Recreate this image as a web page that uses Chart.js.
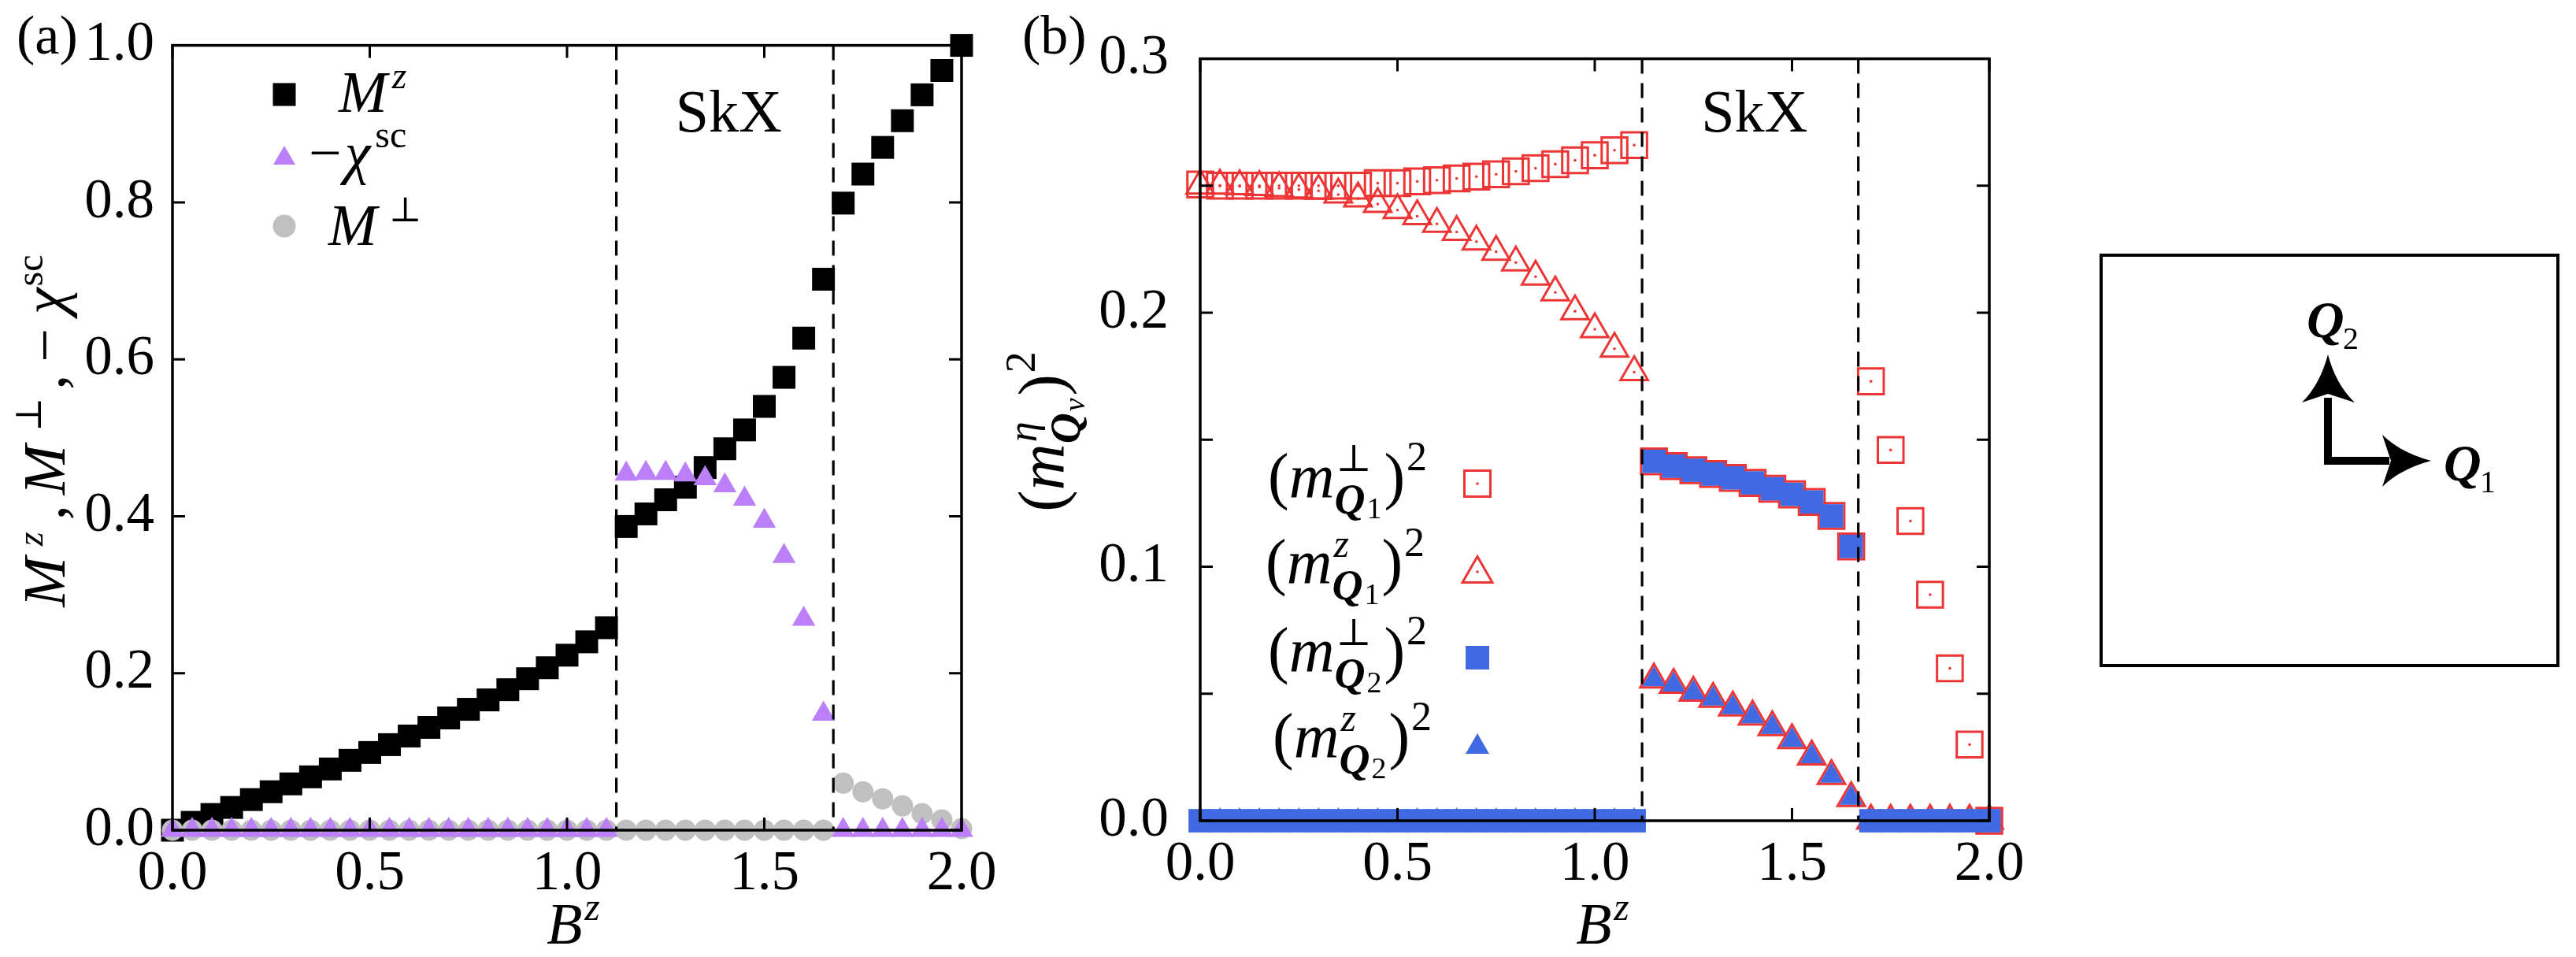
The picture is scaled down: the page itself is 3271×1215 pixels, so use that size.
<!DOCTYPE html>
<html>
<head>
<meta charset="utf-8">
<script src="https://cdn.jsdelivr.net/npm/chart.js@4.4.1/dist/chart.umd.min.js"></script>
<style>
  html, body { margin: 0; padding: 0; background: #fff; }
  #page { position: relative; width: 3271px; height: 1215px; overflow: hidden; background: #fff; }
  canvas { position: absolute; top: 0; }
  #chartA { left: 0; }
  #chartB { left: 1260px; }
  svg { position: absolute; left: 0; top: 0; }
  svg text { font-family: 'Liberation Serif', 'Times New Roman', 'Nimbus Roman', 'Noto Serif', 'DejaVu Serif', serif; }
</style>
</head>
<body>
<div id="page">
  <canvas id="chartA" width="1300" height="1215"></canvas>
  <canvas id="chartB" width="1390" height="1215"></canvas>
  <svg width="3271" height="1215" xmlns="http://www.w3.org/2000/svg">
    <rect x="2668" y="324" width="580" height="521" fill="none" stroke="#000" stroke-width="4"/>
    <polyline points="2956,505 2956,585 3034,585" fill="none" stroke="#000" stroke-width="10" stroke-linejoin="miter"/>
    <path d="M2956,450 Q2966,488 2990,511 L2956,500 L2923,511 Q2946,488 2956,450 Z" fill="#000"/>
    <path d="M3087,585 Q3049,595 3025,618 L3036,585 L3025,552 Q3049,575 3087,585 Z" fill="#000"/>
    <text x="2929" y="428" font-style="italic" font-weight="bold" font-size="66">Q</text>
    <text x="2975" y="443" font-size="40">2</text>
    <text x="3103" y="610" font-style="italic" font-weight="bold" font-size="66">Q</text>
    <text x="3149" y="625" font-size="40">1</text>
  </svg>
</div>
<script>
// field values B^z
const bz = [0.00, 0.05, 0.10, 0.15, 0.20, 0.25, 0.30, 0.35, 0.40, 0.45,
            0.50, 0.55, 0.60, 0.65, 0.70, 0.75, 0.80, 0.85, 0.90, 0.95,
            1.00, 1.05, 1.10, 1.15, 1.20, 1.25, 1.30, 1.35, 1.40, 1.45,
            1.50, 1.55, 1.60, 1.65, 1.70, 1.75, 1.80, 1.85, 1.90, 1.95, 2.00];

// panel (a)
const mz = [0, 0.010, 0.020, 0.029, 0.039, 0.049, 0.059, 0.068, 0.078, 0.089,
            0.099, 0.109, 0.120, 0.131, 0.143, 0.154, 0.166, 0.179, 0.193, 0.207,
            0.223, 0.240, 0.258, 0.387, 0.403, 0.421, 0.437, 0.462, 0.486, 0.510,
            0.540, 0.577, 0.627, 0.702, 0.799, 0.836, 0.870, 0.904, 0.937, 0.968, 1.000];
const chiSc = [0, 0, 0, 0, 0, 0, 0, 0, 0, 0,
               0, 0, 0, 0, 0, 0, 0, 0, 0, 0,
               0, 0, 0, 0.454, 0.455, 0.455, 0.453, 0.448, 0.439, 0.422,
               0.394, 0.349, 0.269, 0.148, 0, 0, 0, 0, 0, 0, 0];
const mPerp = [0, 0, 0, 0, 0, 0, 0, 0, 0, 0,
               0, 0, 0, 0, 0, 0, 0, 0, 0, 0,
               0, 0, 0, 0, 0, 0, 0, 0, 0, 0,
               0, 0, 0, 0, 0.060, 0.049, 0.040, 0.031, 0.021, 0.013, 0.002];

// panel (b)
const mPerpQ1 = [0.2505, 0.250, 0.250, 0.250, 0.250, 0.250, 0.250, 0.250, 0.250, 0.251,
                 0.251, 0.2517, 0.2522, 0.2529, 0.2536, 0.2545, 0.2557, 0.2569, 0.2585, 0.260,
                 0.262, 0.264, 0.266, 0.1415, 0.1396, 0.138, 0.1365, 0.135, 0.133, 0.1307,
                 0.1285, 0.1255, 0.120, 0.108, 0.173, 0.146, 0.118, 0.089, 0.060, 0.030, 0];
const mzQ1 = [0.250, 0.250, 0.2498, 0.2495, 0.249, 0.2485, 0.248, 0.2465, 0.245, 0.2428,
              0.2404, 0.238, 0.235, 0.2318, 0.228, 0.224, 0.2198, 0.2142, 0.208, 0.2006,
              0.1935, 0.1858, 0.1766, 0.0556, 0.0535, 0.0504, 0.048, 0.0446, 0.041, 0.0368,
              0.0317, 0.0253, 0.0176, 0.0089, 0, 0, 0, 0, 0, 0, 0];
const mPerpQ2 = [0, 0, 0, 0, 0, 0, 0, 0, 0, 0,
                 0, 0, 0, 0, 0, 0, 0, 0, 0, 0,
                 0, 0, 0, 0.1415, 0.1396, 0.138, 0.1365, 0.135, 0.133, 0.1307,
                 0.1285, 0.1255, 0.120, 0.108, 0, 0, 0, 0, 0, 0, 0];
const mzQ2 = [0, 0, 0, 0, 0, 0, 0, 0, 0, 0,
              0, 0, 0, 0, 0, 0, 0, 0, 0, 0,
              0, 0, 0, 0.0556, 0.0535, 0.0504, 0.048, 0.0446, 0.041, 0.0368,
              0.0317, 0.0253, 0.0176, 0.0089, 0, 0, 0, 0, 0, 0, 0];

// ticks and phase boundaries
const xTicks = [0, 0.5, 1.0, 1.5, 2.0];
const yTicksA = [0, 0.2, 0.4, 0.6, 0.8, 1.0];
const yTicksB = [0, 0.05, 0.10, 0.15, 0.20, 0.25, 0.30];
const phaseA = [1.125, 1.675];
const phaseB = [1.12, 1.668];

const SERIF = "'Liberation Serif', 'Times New Roman', 'Nimbus Roman', 'Noto Serif', 'DejaVu Serif', serif";
const R = s => `${s}px ${SERIF}`;
const I = s => `italic ${s}px ${SERIF}`;
const BI = s => `bold italic ${s}px ${SERIF}`;
const SYM = s => `${s}px 'DejaVu Serif', 'DejaVu Sans', serif`;

const RED = '#ee3535';
const BLUE = '#4169e1';
const PURPLE = '#bb80f8';
const GREY = '#c0c0c0';

function pts(ys) {
  return bz.map((b, i) => ({ x: b, y: ys[i] }));
}

// text with super/subscripts, drawn on the chart canvas
function rich(ctx, parts, x, y, angle, align) {
  ctx.save();
  ctx.translate(x, y);
  ctx.rotate(angle);
  ctx.fillStyle = '#000';
  ctx.textAlign = 'left';
  ctx.textBaseline = 'alphabetic';
  let pos = 0, end = 0, mark = 0;
  const laid = parts.map(p => {
    ctx.font = p.f;
    const w = ctx.measureText(p.t).width;
    if (p.stack) pos = mark;
    else if (!p.cont) pos = end;
    if (p.mark) mark = pos;
    const at = pos + (p.dx || 0);
    pos = at + w;
    end = Math.max(end, pos);
    return { p, at };
  });
  const shift = align === 'center' ? -end / 2 : 0;
  laid.forEach(({ p, at }) => {
    ctx.font = p.f;
    ctx.fillText(p.t, at + shift, p.dy || 0);
  });
  ctx.restore();
}

function marker(ctx, kind, x, y, s, fill, stroke, lw) {
  ctx.save();
  ctx.beginPath();
  if (kind === 'sq') {
    ctx.rect(x - s / 2, y - s / 2, s, s);
  } else if (kind === 'tri') {
    const h = s * 0.866;
    ctx.moveTo(x, y - h / 2);
    ctx.lineTo(x + s / 2, y + h / 2);
    ctx.lineTo(x - s / 2, y + h / 2);
    ctx.closePath();
  } else {
    ctx.arc(x, y, s / 2, 0, Math.PI * 2);
  }
  if (fill) { ctx.fillStyle = fill; ctx.fill(); }
  if (stroke) { ctx.strokeStyle = stroke; ctx.lineWidth = lw; ctx.stroke(); }
  if (stroke && !fill) {
    ctx.beginPath();
    ctx.arc(x, kind === 'tri' ? y + 3 : y, 1.8, 0, Math.PI * 2);
    ctx.fillStyle = stroke;
    ctx.fill();
  }
  ctx.restore();
}

function dashes(ctx, ca, x, list) {
  ctx.save();
  ctx.strokeStyle = '#000';
  ctx.lineWidth = 3.2;
  ctx.setLineDash([19, 12]);
  list.forEach(v => {
    const px = x.getPixelForValue(v);
    ctx.beginPath();
    ctx.moveTo(px, ca.top);
    ctx.lineTo(px, ca.bottom);
    ctx.stroke();
  });
  ctx.restore();
}

function frame(ctx, ca, x, y, xt, yt) {
  ctx.save();
  ctx.strokeStyle = '#000';
  ctx.lineWidth = 3.5;
  ctx.strokeRect(ca.left, ca.top, ca.right - ca.left, ca.bottom - ca.top);
  ctx.lineWidth = 3;
  const L = 16;
  ctx.beginPath();
  xt.forEach(v => {
    const px = x.getPixelForValue(v);
    ctx.moveTo(px, ca.bottom); ctx.lineTo(px, ca.bottom - L);
    ctx.moveTo(px, ca.top); ctx.lineTo(px, ca.top + L);
  });
  yt.forEach(v => {
    const py = y.getPixelForValue(v);
    ctx.moveTo(ca.left, py); ctx.lineTo(ca.left + L, py);
    ctx.moveTo(ca.right, py); ctx.lineTo(ca.right - L, py);
  });
  ctx.stroke();
  ctx.restore();
}

function xScale(height) {
  return {
    type: 'linear', min: 0, max: 2,
    grid: { display: false }, border: { display: false },
    afterBuildTicks: s => { s.ticks = xTicks.map(v => ({ value: v })); },
    afterFit: s => { s.height = height; },
    ticks: { padding: 6, color: '#000', autoSkip: false, maxRotation: 0,
             font: { family: SERIF, size: 71 }, callback: v => v.toFixed(1) }
  };
}

function yScale(width, max, list, pad, cb) {
  return {
    type: 'linear', min: 0, max: max,
    grid: { display: false }, border: { display: false },
    afterBuildTicks: s => { s.ticks = list.map(v => ({ value: v })); },
    afterFit: s => { s.width = width; },
    ticks: { padding: pad, color: '#000', autoSkip: false,
             font: { family: SERIF, size: 71 }, callback: cb }
  };
}

//   Panel (a)
const panelA = {
  id: 'panelA',
  afterDatasetsDraw(chart) {
    const { ctx, chartArea: ca, scales: { x, y } } = chart;
    dashes(ctx, ca, x, phaseA);
    frame(ctx, ca, x, y, xTicks, yTicksA);
    rich(ctx, [{ t: 'SkX', f: R(76) }], x.getPixelForValue(1.41), 167, 0, 'center');

    marker(ctx, 'sq', 361, 120, 29, '#000');
    rich(ctx, [{ t: 'M', f: I(74) }, { t: 'z', f: I(48), dy: -30, dx: 6 }], 430, 142, 0, 'left');
    marker(ctx, 'tri', 361, 197, 28, PURPLE);
    rich(ctx, [{ t: '\u2212', f: R(74) }, { t: '\u03c7', f: I(74), dx: 4 }, { t: 'sc', f: R(48), dy: -32, dx: 6 }], 392, 219, 0, 'left');
    marker(ctx, 'dot', 361, 287, 29, GREY);
    rich(ctx, [{ t: 'M', f: I(74) }, { t: '\u22a5', f: SYM(44), dy: -30, dx: 15 }], 417, 311, 0, 'left');

    rich(ctx, [{ t: 'B', f: I(74) }, { t: 'z', f: I(50), dy: -30, dx: 3 }], (ca.left + ca.right) / 2 + 8, 1198, 0, 'center');
    rich(ctx, [
      { t: 'M', f: I(76) }, { t: 'z', f: I(46), dy: -28, dx: 14 },
      { t: ',', f: R(76), dx: 15 }, { t: 'M', f: I(76), dx: 13 },
      { t: '\u22a5', f: SYM(46), dy: -30, dx: 17 },
      { t: ',', f: R(76), dx: 10 }, { t: '\u2212', f: R(76), dx: 16 },
      { t: '\u03c7', f: I(76), dx: 18 }, { t: 'sc', f: R(48), dy: -28, dx: 2 }
    ], 82, 547, -Math.PI / 2, 'center');
    rich(ctx, [{ t: '(a)', f: R(70) }], 21, 68, 0, 'left');
  }
};

new Chart(document.getElementById('chartA'), {
  type: 'scatter',
  data: {
    datasets: [
      { label: '-chi_sc', data: pts(chiSc), pointStyle: 'triangle', pointRadius: 17,
        backgroundColor: PURPLE, borderWidth: 0, clip: false },
      { label: 'M_perp', data: pts(mPerp), pointStyle: 'circle', pointRadius: 13.5,
        backgroundColor: GREY, borderWidth: 0, clip: false },
      { label: 'M_z', data: pts(mz), pointStyle: 'rect', pointRadius: 20.5,
        backgroundColor: '#000', borderWidth: 0, clip: false },
    ],
  },
  options: {
    responsive: false,
    devicePixelRatio: 1,
    animation: false,
    events: [],
    layout: { padding: { left: 0, top: 51, right: 79, bottom: 0 } },
    plugins: { legend: { display: false }, tooltip: { enabled: false } },
    scales: {
      x: xScale(161),
      y: yScale(219, 1.0, yTicksA, 15, v => v.toFixed(1)),
    },
  },
  plugins: [panelA],
});

//   Panel (b)
function legendRow(ctx, sup, supFont, sub, x, y) {
  rich(ctx, [
    { t: '(', f: R(80) }, { t: 'm', f: I(80) },
    { t: sup, f: supFont, dy: -33, mark: true, dx: 2 },
    { t: 'Q', f: BI(54), dy: 21, stack: true }, { t: sub, f: R(38), dy: 27, cont: true, dx: 2 },
    { t: ')', f: R(80), dx: 3 }, { t: '2', f: R(52), dy: -34, dx: 2 }
  ], x, y, 0, 'left');
}

const panelB = {
  id: 'panelB',
  afterDatasetsDraw(chart) {
    const { ctx, chartArea: ca, scales: { x, y } } = chart;
    dashes(ctx, ca, x, phaseB);
    frame(ctx, ca, x, y, xTicks, yTicksB);
    rich(ctx, [{ t: 'SkX', f: R(76) }], x.getPixelForValue(1.405), 167, 0, 'center');

    legendRow(ctx, '\u22a5', SYM(48), '1', 350, 631);
    marker(ctx, 'sq', 616, 614, 33, null, RED, 3);
    legendRow(ctx, 'z', I(50), '1', 347, 740);
    marker(ctx, 'tri', 616, 723, 38, null, RED, 3);
    legendRow(ctx, '\u22a5', SYM(48), '2', 350, 852);
    marker(ctx, 'sq', 616, 835, 30, BLUE);
    legendRow(ctx, 'z', I(50), '2', 356, 961);
    marker(ctx, 'tri', 616, 944, 30, BLUE);

    rich(ctx, [{ t: 'B', f: I(74) }, { t: 'z', f: I(50), dy: -30, dx: 3 }], (ca.left + ca.right) / 2 + 10, 1198, 0, 'center');
    rich(ctx, [
      { t: '(', f: R(82) }, { t: 'm', f: I(82) },
      { t: '\u03b7', f: I(52), dy: -34, mark: true, dx: 2 },
      { t: 'Q', f: BI(54), dy: 21, stack: true }, { t: '\u03bd', f: I(38), dy: 27, cont: true, dx: 2 },
      { t: ')', f: R(82), dx: 3 }, { t: '2', f: R(54), dy: -36, dx: 2 }
    ], 90, 548, -Math.PI / 2, 'center');
    rich(ctx, [{ t: '(b)', f: R(70) }], 38, 68, 0, 'left');
  }
};

new Chart(document.getElementById('chartB'), {
  type: 'scatter',
  data: {
    datasets: [
      { label: 'mz_Q2', data: pts(mzQ2), pointStyle: 'triangle', pointRadius: 17,
        backgroundColor: BLUE, borderWidth: 0, clip: false },
      { label: 'mperp_Q2', data: pts(mPerpQ2), pointStyle: 'rect', pointRadius: 21,
        backgroundColor: BLUE, borderWidth: 0, clip: false },
      { label: 'dots_mz_Q1', data: pts(mzQ1), pointStyle: 'circle', pointRadius: 1.8,
        backgroundColor: RED, borderWidth: 0, clip: false },
      { label: 'dots_mperp_Q1', data: pts(mPerpQ1), pointStyle: 'circle', pointRadius: 1.8,
        backgroundColor: RED, borderWidth: 0, clip: false },
      { label: 'mz_Q1', data: pts(mzQ1), pointStyle: 'triangle', pointRadius: 20,
        backgroundColor: 'rgba(0,0,0,0)', borderColor: RED, borderWidth: 3, clip: false },
      { label: 'mperp_Q1', data: pts(mPerpQ1), pointStyle: 'rect', pointRadius: 23,
        backgroundColor: 'rgba(0,0,0,0)', borderColor: RED, borderWidth: 3, clip: false },
    ],
  },
  options: {
    responsive: false,
    devicePixelRatio: 1,
    animation: false,
    events: [],
    layout: { padding: { left: 0, top: 51, right: 124, bottom: 0 } },
    plugins: { legend: { display: false }, tooltip: { enabled: false } },
    scales: {
      x: xScale(173),
      y: yScale(264, 0.3, yTicksB, 32, v => (Math.round(v * 100) % 10 === 0 ? v.toFixed(1) : '')),
    },
  },
  plugins: [panelB],
});
</script>
</body>
</html>
